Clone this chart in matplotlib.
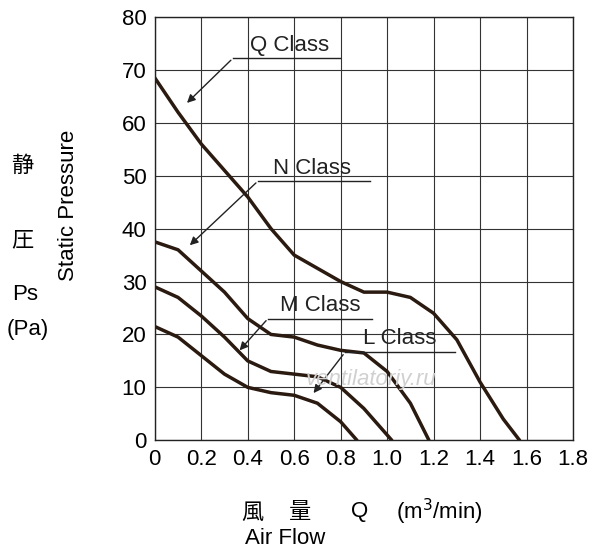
import numpy as np
import matplotlib
matplotlib.use("Agg")
import matplotlib.pyplot as plt

plt.rcParams['font.family'] = ['Liberation Sans', 'DejaVu Sans', 'Noto Sans CJK JP']

# Curves
q_x = [0, 0.1, 0.2, 0.3, 0.4, 0.5, 0.6, 0.7, 0.8, 0.9, 1.0, 1.1, 1.2, 1.3, 1.4, 1.5, 1.57]
q_y = [68.5, 62, 56, 51, 46, 40, 35, 32.5, 30, 28, 28, 27, 24, 19, 11, 4, 0]
n_x = [0, 0.1, 0.2, 0.3, 0.4, 0.5, 0.6, 0.7, 0.8, 0.9, 1.0, 1.1, 1.18]
n_y = [37.5, 36, 32, 28, 23, 20, 19.5, 18, 17, 16.5, 13, 7, 0]
m_x = [0, 0.1, 0.2, 0.3, 0.4, 0.5, 0.6, 0.7, 0.8, 0.9, 1.02]
m_y = [29, 27, 23.5, 19.5, 15, 13, 12.5, 12, 10, 6, 0]
l_x = [0, 0.1, 0.2, 0.3, 0.4, 0.5, 0.6, 0.7, 0.8, 0.87]
l_y = [21.5, 19.5, 16, 12.5, 10, 9, 8.5, 7, 3.5, 0]

# label text pos, underline x range, underline y, arrow tip
labels = [
    ("Q Class", (0.58, 74.7), (0.336, 0.797), 72.2, (0.13, 63.4)),
    ("N Class", (0.676, 51.4), (0.444, 0.926), 49.0, (0.142, 36.5)),
    ("M Class", (0.71, 25.5), (0.487, 0.935), 23.0, (0.357, 16.6)),
    ("L Class", (1.055, 19.3), (0.818, 1.29), 16.6, (0.676, 8.5)),
]

fig = plt.figure(figsize=(6, 5.58), dpi=100)
ax = fig.add_axes([0.258, 0.211, 0.697, 0.7585])

for xs, ys in [(q_x, q_y), (n_x, n_y), (m_x, m_y), (l_x, l_y)]:
    ax.plot(xs, ys, color='#2a1a10', lw=2.5, solid_capstyle='round', solid_joinstyle='round')

for txt, tp, ux, uy, tip in labels:
    ax.text(tp[0], tp[1], txt, fontsize=16, ha='center', va='center', color='#222')
    ax.plot(ux, [uy, uy], color='#222', lw=1)
    ax.annotate('', xy=tip, xytext=(ux[0], uy),
                arrowprops=dict(arrowstyle='-|>', color='#222', lw=1, mutation_scale=12))

ax.text(0.93, 11.5, "ventilatoriy.ru", fontsize=16, style='italic', color='#d0d0d0',
        ha='center', va='center')

ax.set_xlim(0, 1.8)
ax.set_ylim(0, 80)
ax.set_xticks(np.arange(0, 1.81, 0.2))
ax.set_xticklabels(['0'] + ['%.1f' % v for v in np.arange(0.2, 1.81, 0.2)])
ax.set_yticks(np.arange(0, 81, 10))
ax.grid(True, color='#333', lw=0.8)
ax.tick_params(labelsize=16, length=0, pad=6)
for s in ax.spines.values():
    s.set_color('#222')
    s.set_linewidth(1)

fig.text(68 / 600, 1 - 205 / 558, "Static Pressure", rotation=90, fontsize=16, ha='center', va='center')
fig.text(22 / 600, 1 - 165 / 558, "静", fontsize=16, ha='center', va='center', family=['Noto Sans CJK JP'])
fig.text(22 / 600, 1 - 240 / 558, "圧", fontsize=16, ha='center', va='center', family=['Noto Sans CJK JP'])
fig.text(25 / 600, 1 - 295 / 558, "Ps", fontsize=16, ha='center', va='center')
fig.text(28 / 600, 1 - 330 / 558, "(Pa)", fontsize=16, ha='center', va='center')
fig.text(252 / 600, 1 - 512 / 558, "風", fontsize=16, ha='center', va='center', family=['Noto Sans CJK JP'])
fig.text(300 / 600, 1 - 512 / 558, "量", fontsize=16, ha='center', va='center', family=['Noto Sans CJK JP'])
fig.text(360 / 600, 1 - 512 / 558, "Q", fontsize=16, ha='center', va='center')
fig.text(396 / 600, 1 - 512 / 558, "(m$^3$/min)", fontsize=16, ha='left', va='center')
fig.text(285 / 600, 1 - 538 / 558, "Air Flow", fontsize=16, ha='center', va='center')

fig.savefig("out.png", dpi=100)
